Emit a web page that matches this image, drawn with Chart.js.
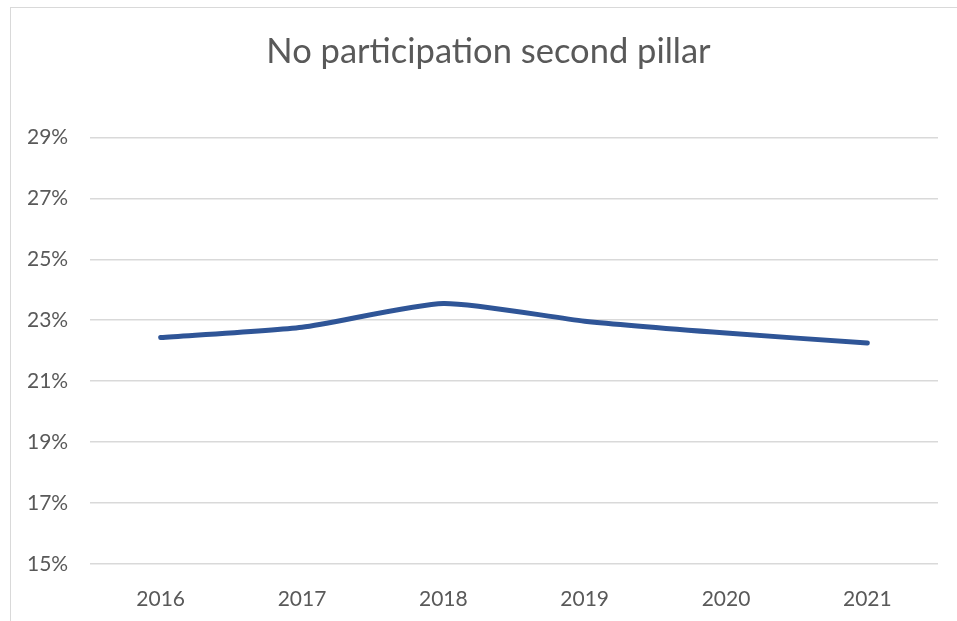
<!DOCTYPE html>
<html>
<head>
<meta charset="utf-8">
<title>No participation second pillar</title>
<script src="https://cdn.jsdelivr.net/npm/chart.js@4"></script>
<style>
    html, body { margin: 0; padding: 0; background: #fff; overflow: hidden; }
    #frame {
        position: absolute; left: 10px; top: 7px; width: 960px; height: 630px;
        border: 1px solid #d9d9d9; box-sizing: border-box;
    }
    #chart { position: absolute; left: 0; top: 0; }
</style>
</head>
<body>
<div id="frame"></div>
<canvas id="chart" width="957" height="621"></canvas>
<script>
// Share of people without second pillar participation, per year (%)
const years = ['2016', '2017', '2018', '2019', '2020', '2021'];
const noParticipation = [22.43, 22.77, 23.55, 22.97, 22.58, 22.25];
const yTicks = [15, 17, 19, 21, 23, 25, 27, 29];

const textColor = '#595959';
const fontFamily = 'Lato, "Open Sans", sans-serif';

const ctx = document.getElementById('chart').getContext('2d');
const chart = new Chart(ctx, {
    type: 'line',
    data: {
        labels: years,
        datasets: [{
            label: 'No participation second pillar',
            data: noParticipation,
            borderColor: '#2F5597',
            borderWidth: 5,
            borderCapStyle: 'round',
            borderJoinStyle: 'round',
            pointRadius: 0,
            tension: 0.2,
            fill: false
        }]
    },
    options: {
        responsive: false,
        animation: false,
        // left padding keeps the title centred on the framed box
        layout: { padding: { left: 39, right: 19, top: 0, bottom: 0 } },
        plugins: {
            legend: { display: false },
            tooltip: { enabled: false },
            title: {
                display: true,
                text: 'No participation second pillar',
                color: textColor,
                font: { family: fontFamily, size: 34.5, weight: 'normal' },
                padding: { top: 31, bottom: 65 }
            }
        },
        scales: {
            x: {
                offset: true,
                grid: { display: false },
                border: { display: false },
                ticks: {
                    color: textColor,
                    font: { family: fontFamily, size: 21 },
                    padding: 15
                },
                afterFit: function(scale) { scale.height = 57; }
            },
            y: {
                min: yTicks[0],
                max: yTicks[yTicks.length - 1],
                afterBuildTicks: function(scale) {
                    scale.ticks = yTicks.map(v => ({ value: v }));
                },
                grid: { color: '#d9d9d9', lineWidth: 1.5, drawTicks: false },
                border: { display: false },
                // mirrored labels are not clipped to the narrow scale box
                ticks: {
                    mirror: true,
                    color: textColor,
                    font: { family: fontFamily, size: 21 },
                    padding: -63,
                    callback: v => v + '%'
                },
                afterFit: function(scale) { scale.width = 51; }
            }
        }
    }
});
</script>
</body>
</html>
